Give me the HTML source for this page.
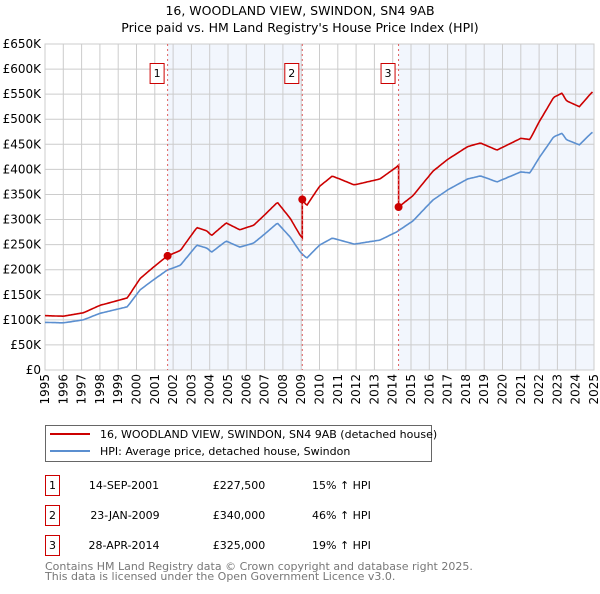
<!DOCTYPE html>
<html><head><meta charset="utf-8">
<style>
body{margin:0;background:#fff;font-family:"DejaVu Sans","Liberation Sans",sans-serif;}
svg text{font-family:"DejaVu Sans","Liberation Sans",sans-serif;}
</style></head>
<body>
<svg id="chart" width="600" height="590" viewBox="0 0 600 590" xmlns="http://www.w3.org/2000/svg">
<text x="300" y="15" text-anchor="middle" font-size="12.5" fill="#000">16, WOODLAND VIEW, SWINDON, SN4 9AB</text>
<text x="300" y="32" text-anchor="middle" font-size="12.5" fill="#000">Price paid vs. HM Land Registry's House Price Index (HPI)</text>
<g id="shade"></g><g id="grid"></g><g id="axes"></g><g id="series"></g><g id="markers"></g>

<g>
<rect x="45.5" y="425.5" width="386" height="36" fill="#fff" stroke="#666"/>
<line x1="50" y1="434" x2="90" y2="434" stroke="#cc0000" stroke-width="2"/>
<text x="100" y="438" font-size="11">16, WOODLAND VIEW, SWINDON, SN4 9AB (detached house)</text>
<line x1="50" y1="451" x2="90" y2="451" stroke="#5b8fd0" stroke-width="2"/>
<text x="100" y="455" font-size="11">HPI: Average price, detached house, Swindon</text>
</g>
<g font-size="11">
<rect x="45.5" y="475.5" width="14" height="20" fill="#fff" stroke="#cc0000"/><text x="52.5" y="489" text-anchor="middle">1</text>
<text x="124" y="489" text-anchor="middle">14-SEP-2001</text>
<text x="239" y="489" text-anchor="middle">£227,500</text>
<text x="312" y="489">15% ↑ HPI</text>
<rect x="45.5" y="505.5" width="14" height="20" fill="#fff" stroke="#cc0000"/><text x="52.5" y="519" text-anchor="middle">2</text>
<text x="125" y="519" text-anchor="middle">23-JAN-2009</text>
<text x="239" y="519" text-anchor="middle">£340,000</text>
<text x="312" y="519">46% ↑ HPI</text>
<rect x="45.5" y="535.5" width="14" height="20" fill="#fff" stroke="#cc0000"/><text x="52.5" y="549" text-anchor="middle">3</text>
<text x="124" y="549" text-anchor="middle">28-APR-2014</text>
<text x="239" y="549" text-anchor="middle">£325,000</text>
<text x="312" y="549">19% ↑ HPI</text>
</g>
<text x="45" y="570" font-size="11" fill="#777">Contains HM Land Registry data © Crown copyright and database right 2025.</text>
<text x="45" y="580" font-size="11" fill="#777">This data is licensed under the Open Government Licence v3.0.</text>
</svg>
<script>
const hpiYears=[1995,1996,1997.1,1998,1999.5,2000.2,2000.9,2001.67,2002.4,2003.3,2003.85,2004.1,2004.9,2005.65,2006.4,2007,2007.7,2008.4,2008.95,2009.3,2010,2010.7,2011.9,2013.3,2014.2,2015.1,2016.2,2017,2018.1,2018.8,2019.7,2021,2021.5,2022,2022.8,2023.25,2023.5,2024.2,2024.9];
const hpiValues=[95,94,100,113,126,160,179,199,209,249,243,235,257,245,253,271,293,265,235,223,249,263,251,259,275,297,339,359,381,387,375,395,393,423,465,472,459,449,474];
const saleYears=[2001.7,2009.06,2014.32];
const salePrices=[227.5,340,325];
const saleLabels=["1","2","3"];
const yTicks=[0,50,100,150,200,250,300,350,400,450,500,550,600,650];
const yTickLabels=["£0","£50K","£100K","£150K","£200K","£250K","£300K","£350K","£400K","£450K","£500K","£550K","£600K","£650K"];
const xTicks=[1995,1996,1997,1998,1999,2000,2001,2002,2003,2004,2005,2006,2007,2008,2009,2010,2011,2012,2013,2014,2015,2016,2017,2018,2019,2020,2021,2022,2023,2024,2025];

const NS="http://www.w3.org/2000/svg";
const X0=45,X1=594,Y0=370,Y1=44;
const xs=t=>X0+(t-1995)/30*(X1-X0);
const ys=v=>Y0-v/650*(Y0-Y1);
function mk(tag,attrs,parent){const e=document.createElementNS(NS,tag);for(const k in attrs)e.setAttribute(k,attrs[k]);document.getElementById(parent).appendChild(e);return e;}
function hpiAt(t){if(t<=hpiYears[0])return hpiValues[0];for(let i=1;i<hpiYears.length;i++){if(t<=hpiYears[i]){const f=(t-hpiYears[i-1])/(hpiYears[i]-hpiYears[i-1]);return hpiValues[i-1]+f*(hpiValues[i]-hpiValues[i-1]);}}return hpiValues[hpiValues.length-1];}

// shading
let r=mk('rect',{x:xs(saleYears[0]),y:Y1,width:xs(saleYears[1])-xs(saleYears[0]),height:Y0-Y1,fill:'#eef3fc',opacity:0.75},'shade');


r=mk('rect',{x:xs(saleYears[2]),y:Y1,width:X1-xs(saleYears[2]),height:Y0-Y1,fill:'#eef3fc',opacity:0.75},'shade');



// grid
yTicks.forEach((v,i)=>{
 const l=mk('line',{x1:X0,x2:X1,y1:ys(v),y2:ys(v),stroke:'#ccc','stroke-width':1},'grid');
 
 
 const t=mk('text',{x:X0-4,y:ys(v)+4,'text-anchor':'end','font-size':12},'axes');
 t.textContent=yTickLabels[i];
 
 
});
xTicks.forEach(yr=>{
 const l=mk('line',{x1:xs(yr),x2:xs(yr),y1:Y1,y2:Y0,stroke:'#ccc','stroke-width':1},'grid');
 
 
 const t=mk('text',{x:0,y:0,'text-anchor':'end','font-size':12,transform:`translate(${xs(yr)+4},${Y0+4}) rotate(-90)`},'axes');
 t.textContent=yr;
 
 
});

// hpi line
let d='';for(let t=1995;t<=2024.95;t+=0.08){d+=(d?'L':'M')+xs(t).toFixed(1)+','+ys(hpiAt(t)).toFixed(1);}
let p=mk('path',{d:d,fill:'none',stroke:'#5b8fd0','stroke-width':1.6},'series');



// property line
function priceAt(t,k){return salePrices[k]*hpiAt(t)/hpiAt(saleYears[k]);}
d='';
for(let t=1995;t<=2024.95;t+=0.08){
 let k=0;for(let j=0;j<saleYears.length;j++)if(t>=saleYears[j])k=j;
 for(let j=1;j<saleYears.length;j++){if(t>=saleYears[j]&&t-0.08<saleYears[j]){d+='L'+xs(saleYears[j]).toFixed(1)+','+ys(priceAt(saleYears[j],j-1)).toFixed(1)+'L'+xs(saleYears[j]).toFixed(1)+','+ys(salePrices[j]).toFixed(1);}}
 d+=(d?'L':'M')+xs(t).toFixed(1)+','+ys(priceAt(t,k)).toFixed(1);
}
p=mk('path',{d:d,fill:'none',stroke:'#cc0000','stroke-width':1.6},'series');



// markers
saleYears.forEach((yr,i)=>{
 const l=mk('line',{x1:xs(yr),x2:xs(yr),y1:Y1,y2:Y0,stroke:'#e06060','stroke-width':1,'stroke-dasharray':'2,3'},'markers');
 
 
 const c=mk('circle',{cx:xs(yr),cy:ys(salePrices[i]),r:4,fill:'#cc0000'},'markers');
 
 
 const b=mk('rect',{x:xs(yr)-17.5,y:63.5,width:14,height:20,fill:'#fff',stroke:'#cc0000'},'markers');
 
 
 const t=mk('text',{x:xs(yr)-10.5,y:77,'text-anchor':'middle','font-size':11},'markers');
 t.textContent=saleLabels[i];
 
 
});
let ax=mk('rect',{x:X0,y:Y1,width:X1-X0,height:Y0-Y1,fill:'none',stroke:'#ccc'},'axes');


</script>
</body></html>
